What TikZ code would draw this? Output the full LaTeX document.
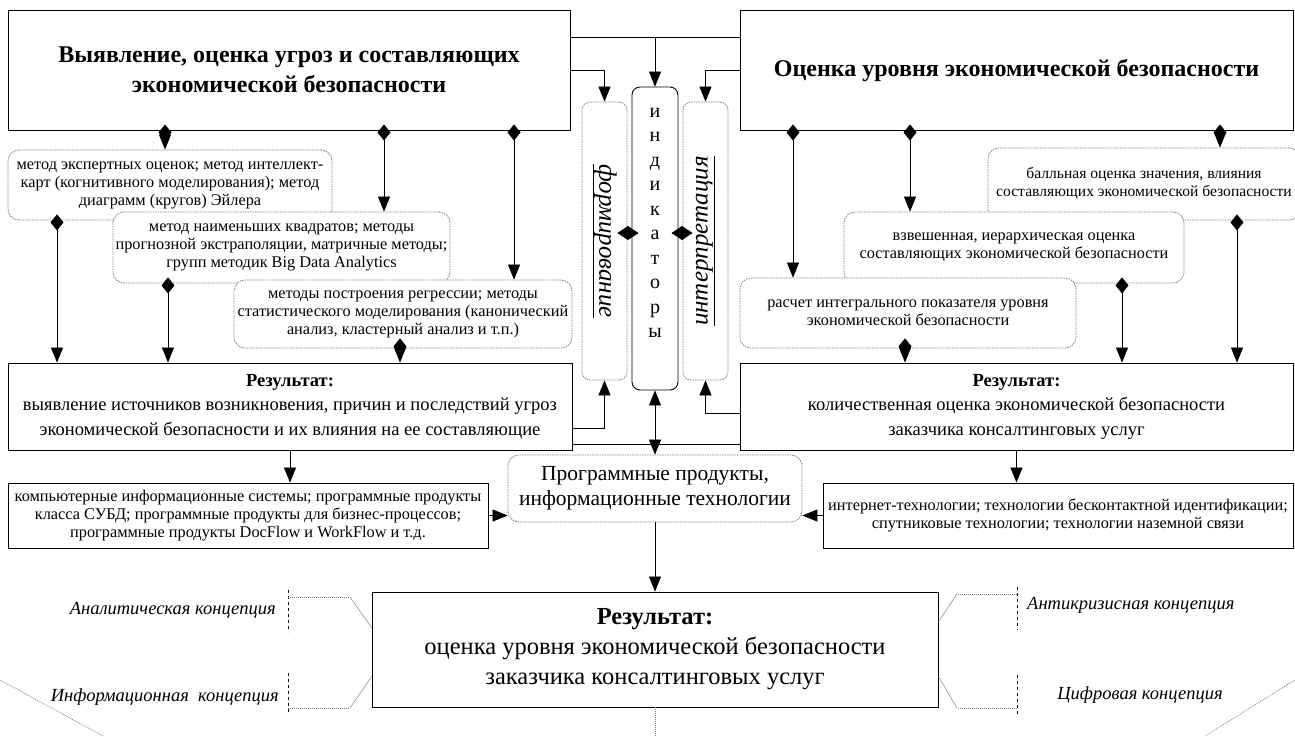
\documentclass[tikz,border=0pt]{standalone}
\usepackage{graphicx}
\usepackage{fontspec}
\setmainfont{Liberation Serif}
\usetikzlibrary{arrows.meta}

\newcommand\fmeth{\fontsize{16.3}{18}\selectfont}
\newcommand\fmeths{\fontsize{15.6}{18}\selectfont}
\newcommand\fres{\fontsize{18.5}{24.5}\selectfont}
\newcommand\fhead{\fontsize{24}{30}\selectfont\bfseries}
\newcommand\fprog{\fontsize{21.5}{25}\selectfont}
\newcommand\ffin{\fontsize{24.5}{30}\selectfont}
\newcommand\fvert{\fontsize{25}{25}\selectfont\itshape}
\newcommand\find{\fontsize{20}{24.5}\selectfont}
\newcommand\fconc{\fontsize{18.5}{20}\selectfont\itshape}

\tikzset{
  sz/.style 2 args={minimum width=#1pt, minimum height=#2pt},
  box/.style={draw=black, line width=0.9pt, fill=white, inner sep=0pt, align=center},
  mbox/.style={draw=gray, dash pattern=on 1.5pt off 1pt, line width=0.8pt,
    rounded corners=11pt, fill=white, inner sep=0pt, align=center, font=\fmeth},
  vbox/.style={draw=gray, dash pattern=on 1.5pt off 1pt, line width=0.8pt,
    rounded corners=8pt, fill=white, inner sep=0pt, font=\fvert},
  arr/.style={line width=0.7pt, -{Triangle[length=15pt,width=12pt]}},
  arr2/.style={line width=0.7pt, {Triangle[length=15pt,width=12pt]}-{Triangle[length=15pt,width=12pt]}},
  dia/.style={line width=0.7pt, {Diamond[length=16pt,width=13pt]}-{Triangle[length=15pt,width=12pt]},
    shorten <=-6pt},
  dmd/.style={line width=0.7pt, -{Diamond[length=21pt,width=14pt]}, shorten >=-10pt},
  conc/.style={inner sep=0pt, font=\fconc},
  brk/.style={line width=0.7pt, dashed},
  dotg/.style={draw=gray, line width=0.7pt, dash pattern=on 1pt off 1pt},
  slant/.style={draw=gray, line width=0.5pt}
}

\begin{document}
\begin{tikzpicture}[x=1pt, y=-1pt]
  \useasboundingbox (0,0) rectangle (1295,736);

  % upper blocks
  \node[box, sz={562}{120}, font=\fhead] (TL) at (289,70)
    {Выявление, оценка угроз и составляющих\\экономической безопасности};
  \node[box, sz={553}{120}, font=\fhead] (TR) at (1016.5,70)
    {Оценка уровня экономической безопасности};

  % central column
  \node[vbox, sz={45}{278}] (form) at (604.5,241)
    {\rotatebox{-90}{\underline{формирование}}};
  \node[box, sz={46}{303}, rounded corners=8pt, font=\find] (ind) at (655,238.5)
    {и\\н\\д\\и\\к\\а\\т\\о\\р\\ы\\[7pt]~};
  \node[vbox, sz={45}{278}] (interp) at (705.5,241)
    {\rotatebox{90}{\underline{интерпретация}}};

  % methods, left
  \node[mbox, sz={324}{70}] (M1) at (170,185)
    {метод экспертных оценок; метод интеллект-\\карт (когнитивного моделирования); метод\\диаграмм (кругов) Эйлера};
  \node[mbox, sz={337}{71}] (M2) at (281.5,247.5)
    {метод наименьших квадратов; методы\\прогнозной экстраполяции, матричные методы;\\групп методик Big Data Analytics};
  \node[mbox, sz={338}{68}] (M3) at (403,314)
    {методы построения регрессии; методы\\статистического моделирования (канонический\\анализ, кластерный анализ и т.п.)};

  % methods, right
  \node[mbox, sz={312}{72}, font=\fmeths] (N1) at (1144,184)
    {балльная оценка значения, влияния\\составляющих экономической безопасности};
  \node[mbox, sz={340}{71}] (N2) at (1014,247.5)
    {взвешенная, иерархическая оценка\\составляющих экономической безопасности};
  \node[mbox, sz={336}{70}] (N3) at (908,313)
    {расчет интегрального показателя уровня\\экономической безопасности};

  % results
  \node[box, sz={564}{87}, font=\fres] (R1) at (290,406.5)
    {\textbf{Результат:}\\выявление источников возникновения, причин и последствий угроз\\экономической безопасности и их влияния на ее составляющие};
  \node[box, sz={553}{87}, font=\fres] (R2) at (1016.5,406.5)
    {\textbf{Результат:}\\количественная оценка экономической безопасности\\заказчика консалтинговых услуг};

  % software
  \node[box, sz={480}{65}, font=\fmeth] (S1) at (248,515.5)
    {компьютерные информационные системы; программные продукты\\класса СУБД; программные продукты для бизнес-процессов;\\программные продукты DocFlow и WorkFlow и т.д.};
  \node[mbox, sz={294}{67}, font=\fprog] (P) at (655,488.5)
    {Программные продукты,\\информационные технологии};
  \node[box, sz={470}{65}, font=\fmeth] (S2) at (1058,515.5)
    {интернет-технологии; технологии бесконтактной идентификации;\\спутниковые технологии; технологии наземной связи};

  \node[box, sz={566}{115}, font=\ffin] (R3) at (655,649.5)
    {\textbf{Результат:}\\оценка уровня экономической безопасности\\заказчика консалтинговых услуг};

  % concepts
  \node[conc, anchor=east] (cAn) at (276,610) {Аналитическая концепция};
  \node[conc, anchor=east] (cIn) at (279,697) {Информационная\ \ концепция};
  \node[conc, anchor=west] (cAk) at (1027,605) {Антикризисная концепция};
  \node[conc] (cDi) at (1140,695) {Цифровая концепция};

  % columns and rows for connectors
  \coordinate (cA) at (57,0);   \coordinate (cB) at (165,0);
  \coordinate (cC) at (168,0);  \coordinate (cD) at (384,0);
  \coordinate (cE) at (400,0);  \coordinate (cF) at (514,0);
  \coordinate (cG) at (793,0);  \coordinate (cH) at (905,0);
  \coordinate (cI) at (910,0);  \coordinate (cJ) at (1122,0);
  \coordinate (cK) at (1220,0); \coordinate (cL) at (1237,0);
  \coordinate (jT) at (655,37);
  \coordinate (rD) at (0,233);
  \coordinate (rI) at (0,413);
  \coordinate (rF) at (0,428);
  \coordinate (rL) at (0,444);
  \coordinate (bot) at (655,736);

  % top connectors
  \draw[line width=0.7pt] (TL.east |- jT) -- (TR.west |- jT);
  \draw[arr] (jT) -- (ind.north);
  \draw[arr] (TL.east) -| (form.north);
  \draw[arr] (TR.west) -| (interp.north);

  \draw[dia] (TL.south -| cB) -- (M1.north -| cB);
  \draw[dia] (TL.south -| cD) -- (M2.north -| cD);
  \draw[dia] (TL.south -| cF) -- (M3.north -| cF);
  \draw[dia] (M1.south -| cA) -- (R1.north -| cA);
  \draw[dia] (M2.south -| cC) -- (R1.north -| cC);
  \draw[dia] (M3.south -| cE) -- (R1.north -| cE);

  \draw[dia] (TR.south -| cG) -- (N3.north -| cG);
  \draw[dia] (TR.south -| cI) -- (N2.north -| cI);
  \draw[dia] (TR.south -| cK) -- (N1.north -| cK);
  \draw[dia] (N3.south -| cH) -- (R2.north -| cH);
  \draw[dia] (N2.south -| cJ) -- (R2.north -| cJ);
  \draw[dia] (N1.south -| cL) -- (R2.north -| cL);

  % indicators
  \draw[dmd] (ind.west |- rD) -- (form.east |- rD);
  \draw[dmd] (ind.east |- rD) -- (interp.west |- rD);
  \draw[arr] (R1.east |- rF) -| (form.south);
  \draw[arr] (R2.west |- rI) -| (interp.south);
  \draw[line width=0.7pt] (R1.east |- rL) -- (R2.west |- rL);
  \draw[arr2] (ind.south) -- (P.north);

  % lower connectors
  \draw[arr] (R1.south) -- (R1.south |- S1.north);
  \draw[arr] (R2.south) -- (R2.south |- S2.north);
  \draw[arr] (S1.east) -- (S1.east -| P.west);
  \draw[arr] (S2.west) -- (S2.west -| P.east);
  \draw[arr] (P.south) -- (R3.north);
  \draw[dotg] (R3.south) -- (bot);

  % brackets
  \draw[brk] (288,590) -- (288,632);
  \draw[dotg] (288,597) -- (350,597);
  \draw[slant] (350,597) -- ([yshift=-36pt]R3.north west);
  \draw[brk] (288,673) -- (288,715);
  \draw[dotg] (288,708) -- (350,708);
  \draw[slant] (350,708) -- ([yshift=-85pt]R3.north west);
  \draw[brk] (1017,587) -- (1017,630);
  \draw[dotg] (1017,594) -- (957,594);
  \draw[slant] (957,594) -- ([yshift=-30pt]R3.north east);
  \draw[brk] (1017,675) -- (1017,717);
  \draw[dotg] (1017,708) -- (957,708);
  \draw[slant] (957,708) -- ([yshift=-85pt]R3.north east);

  \draw[dotg] (0,680) -- (103,736);
  \draw[dotg] (1295,680) -- (1205,736);
\end{tikzpicture}
\end{document}
